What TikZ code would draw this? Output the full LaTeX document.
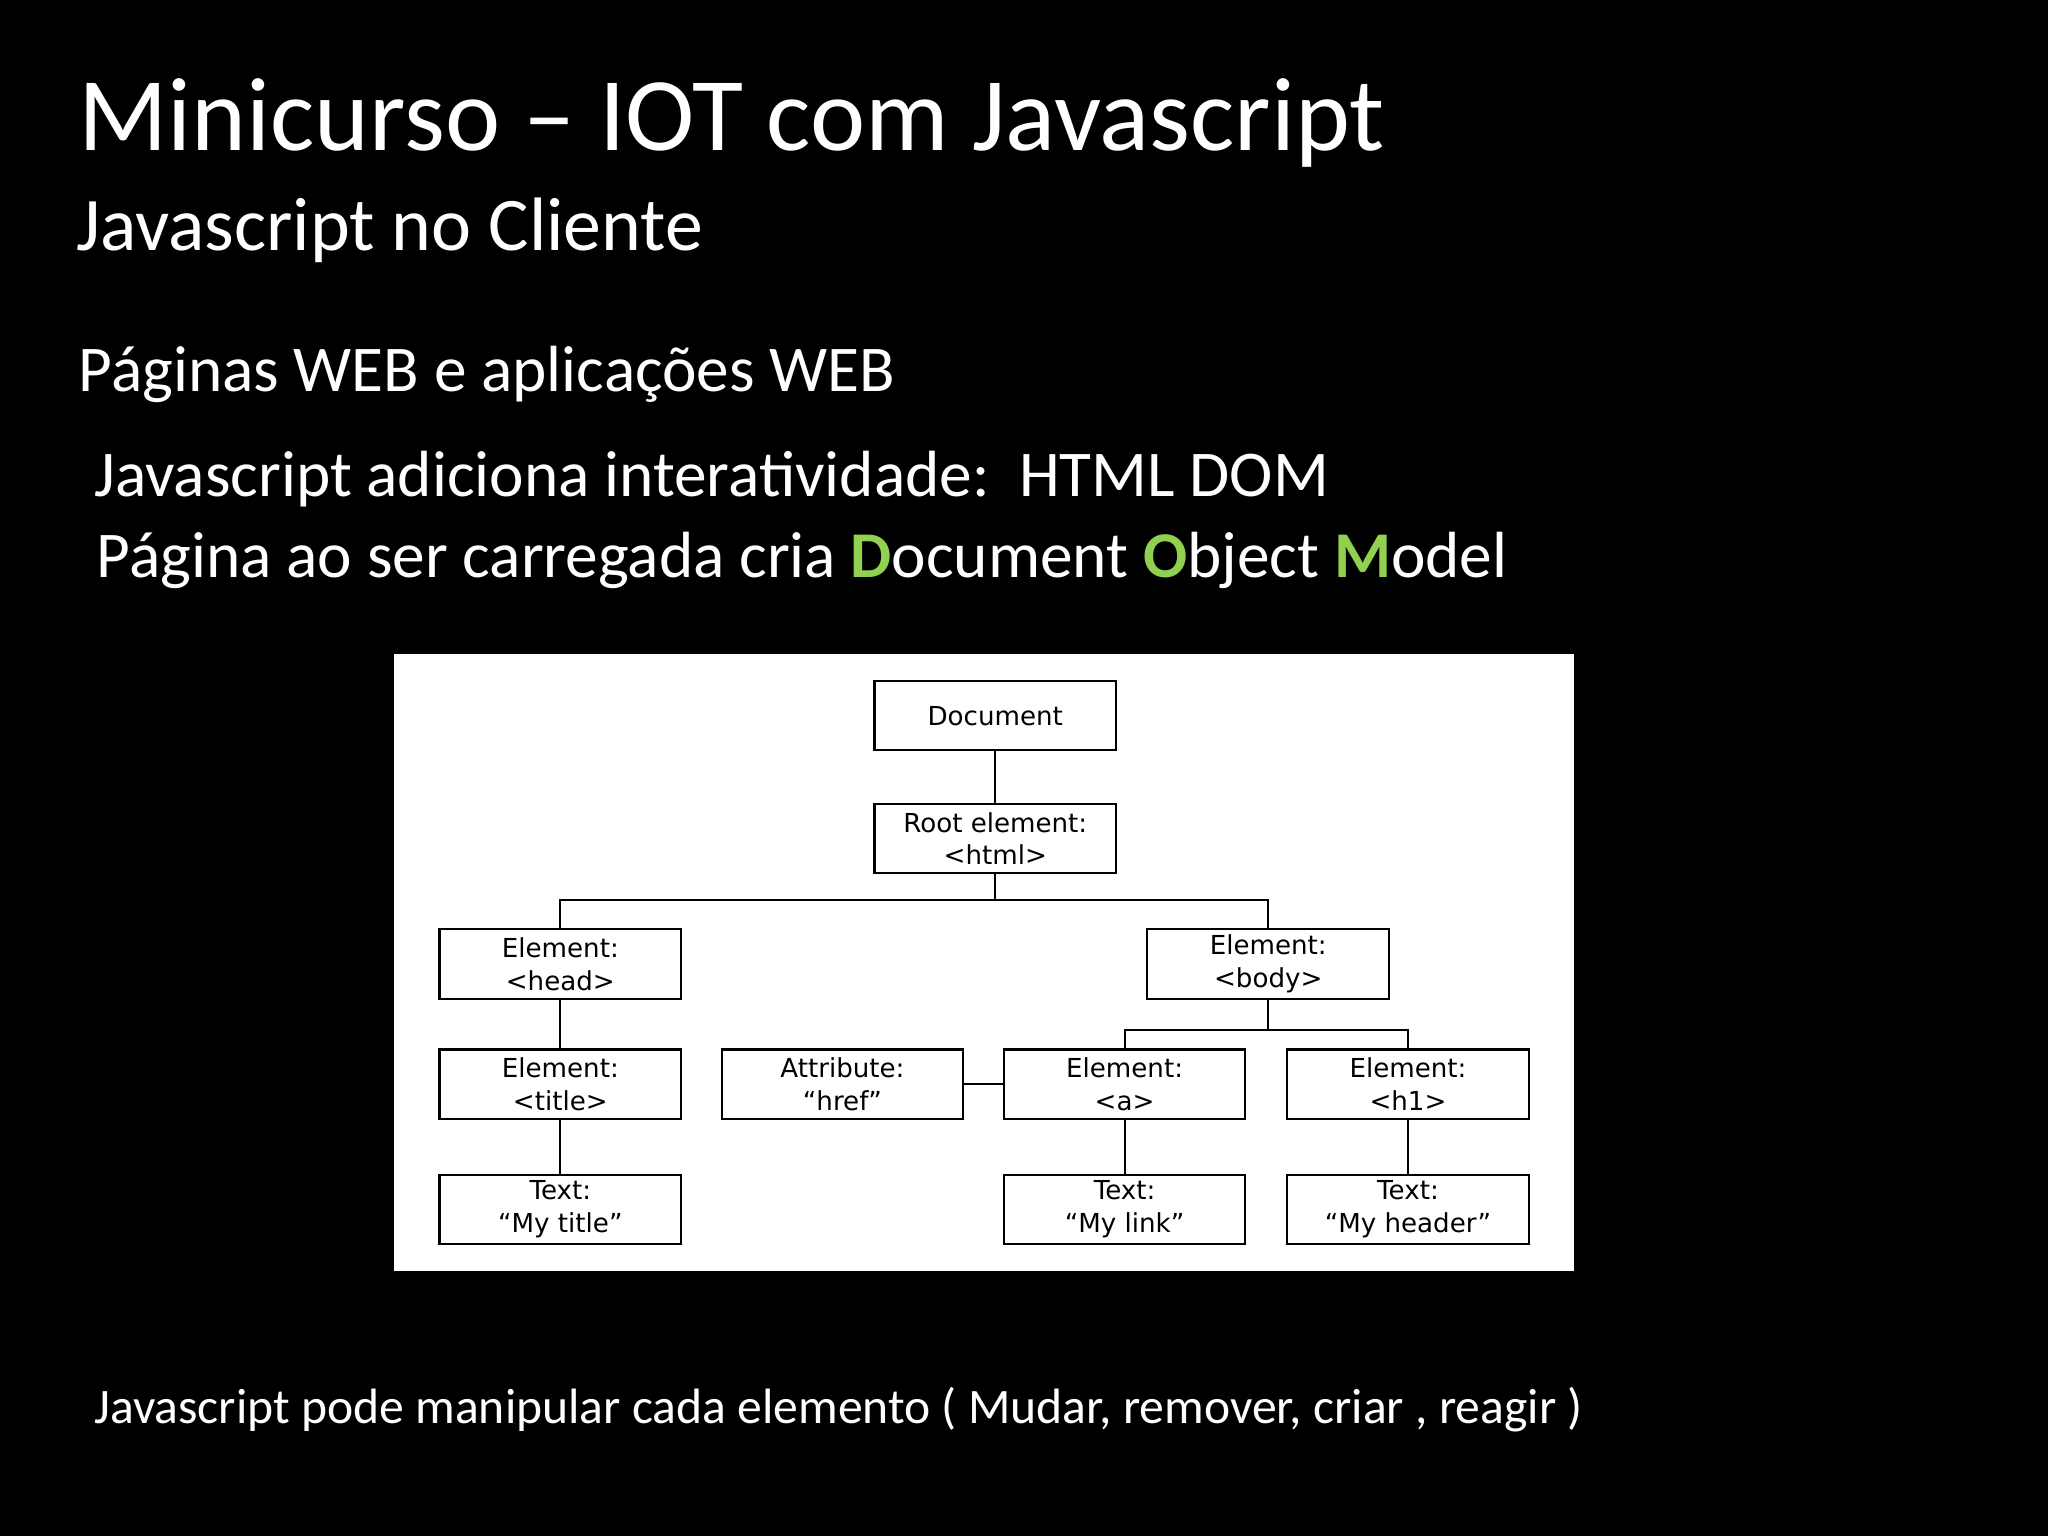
\documentclass[tikz,border=0pt]{standalone}
\usepackage{fontspec}
\setmainfont{Carlito}
\newfontfamily\dejavu{DejaVu Sans}
\definecolor{grn}{HTML}{92D050}
\begin{document}
\begin{tikzpicture}[x=1pt,y=-1pt,
  bx/.style={draw=black,line width=1.6pt,minimum width=185pt,minimum height=53pt,inner sep=0pt,align=center,font=\dejavu\fontsize{20}{25}\selectfont},
  ln/.style={line width=1.6pt},
  tx/.style={anchor=base west,inner sep=0pt,text=white}]
\fill[black] (0,0) rectangle (1568,1176);
\useasboundingbox (0,0) rectangle (1568,1176);
\node[tx,font=\fontsize{80}{90}\selectfont] (t1) at (60,115) {Minicurso – IOT com Javascript};
\node[tx,font=\fontsize{58}{66}\selectfont] (t2) at (58,192) {Javascript no Cliente};
\node[tx,font=\fontsize{50}{60}\selectfont] (t3) at (60,300) {Páginas WEB e aplicações WEB};
\node[tx,font=\fontsize{50}{60}\selectfont] (t4) at (72,380) {Javascript adiciona interatividade:\ \ HTML DOM};
\node[tx,font=\fontsize{50}{60}\selectfont] (t5) at (74,442) {Página ao ser carregada cria \textbf{\textcolor{grn}{D}}ocument \textbf{\textcolor{grn}{O}}bject \textbf{\textcolor{grn}{M}}odel};
\node[tx,font=\fontsize{38}{46}\selectfont] (t6) at (72,1090) {Javascript pode manipular cada elemento ( Mudar, remover, criar , reagir )};
\fill[white] (302,501) rectangle (1205,973);
\node[bx] (doc) at (762,548) {Document};
\node[bx] (root) at (762,642) {Root element:\\<html>};
\node[bx] (head) at (429,738) {Element:\\<head>};
\node[bx] (body) at (971,738) {Element:\\<body>};
\node[bx] (title) at (429,830) {Element:\\<title>};
\node[bx] (attr) at (645,830) {Attribute:\\“href”};
\node[bx] (a) at (861,830) {Element:\\<a>};
\node[bx] (h1) at (1078,830) {Element:\\<h1>};
\node[bx] (tt) at (429,926) {Text:\\“My title”};
\node[bx] (tl) at (861,926) {Text:\\“My link”};
\node[bx] (th) at (1078,926) {Text:\\“My header”};
\draw[ln] (doc) -- (root);
\draw[ln] (root.south) -- ++(0,20) -| (head.north);
\draw[ln] (root.south) -- ++(0,20) -| (body.north);
\draw[ln] (body.south) -- ++(0,23) -| (a.north);
\draw[ln] (body.south) -- ++(0,23) -| (h1.north);
\draw[ln] (attr) -- (a);
\draw[ln] (head) -- (title);
\draw[ln] (title) -- (tt);
\draw[ln] (a) -- (tl);
\draw[ln] (h1) -- (th);
\end{tikzpicture}
\end{document}
